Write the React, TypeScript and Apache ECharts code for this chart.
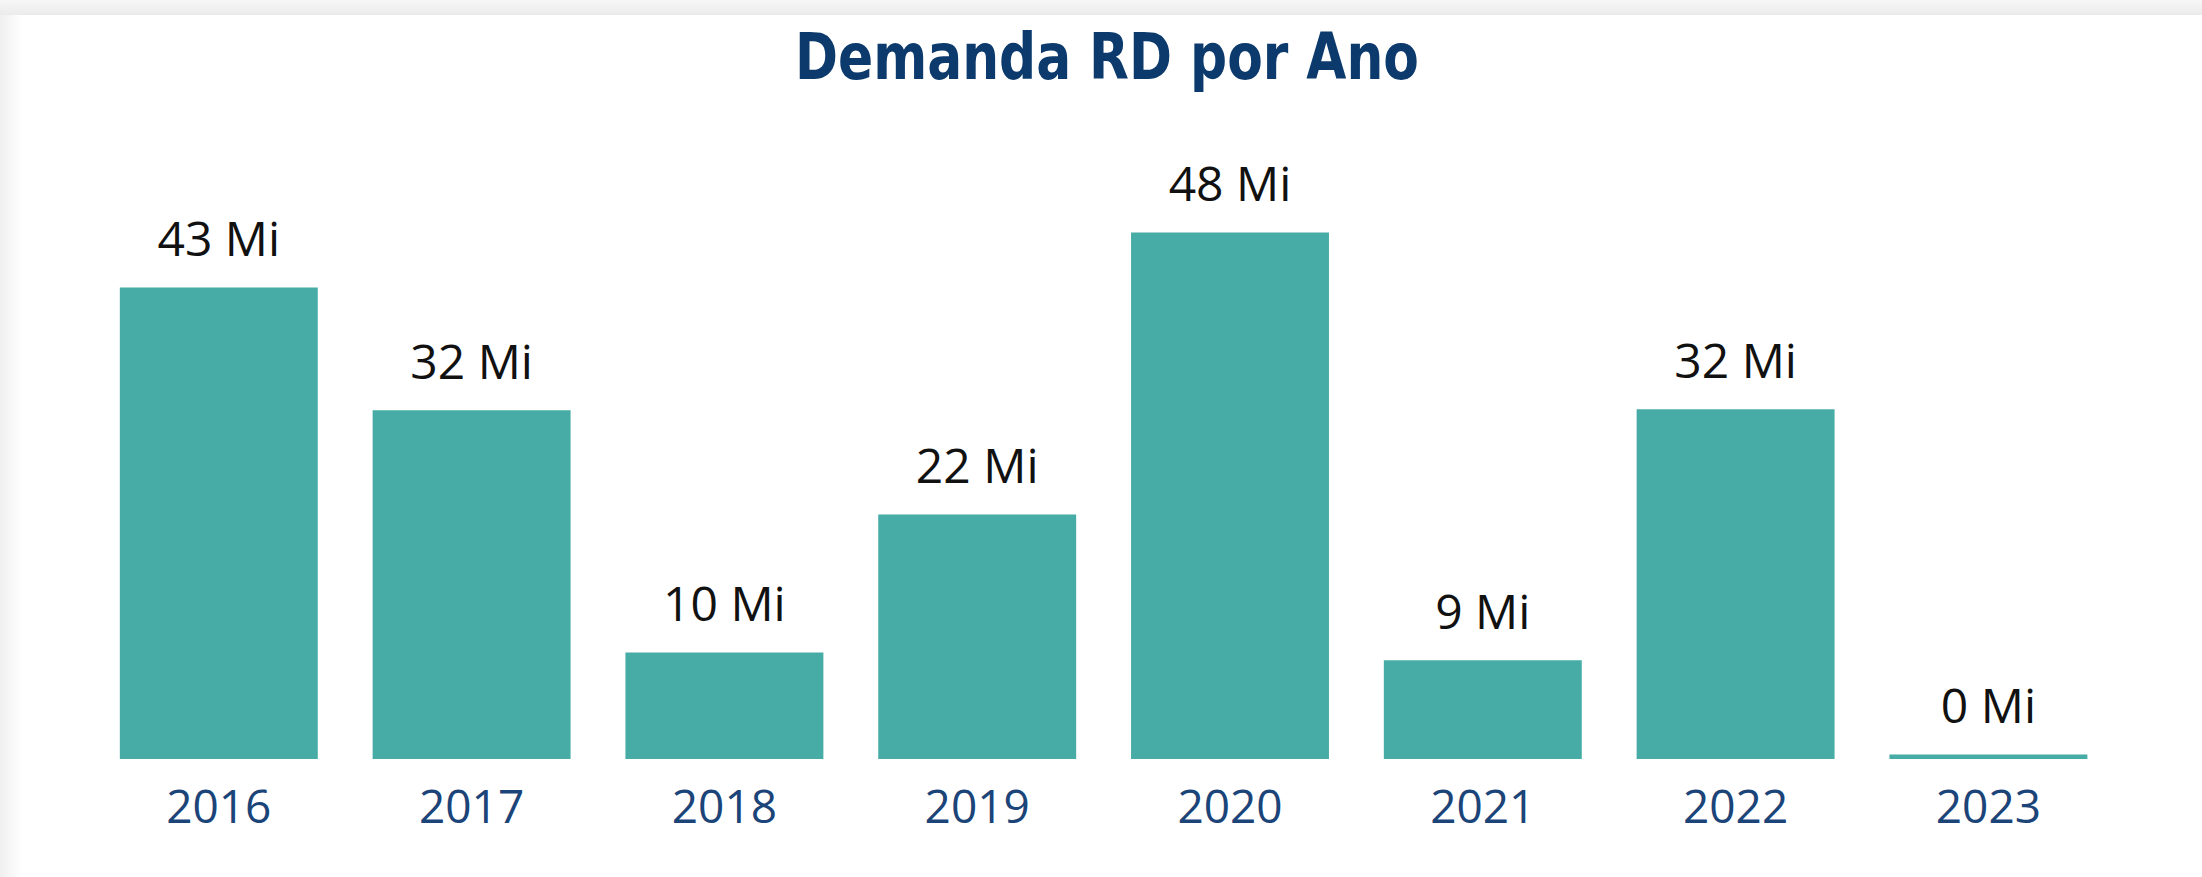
import React, { useEffect, useRef } from "react";
import * as echarts from "echarts";

const years = ["2016", "2017", "2018", "2019", "2020", "2021", "2022", "2023"];
const demandaMi = [43.0, 31.8, 9.7, 22.3, 48.0, 9.0, 31.9, 0.4];
const titleText = "Demanda RD por Ano";
const unitSuffix = " Mi";

export default function App() {
  const ref = useRef<HTMLDivElement>(null);

  useEffect(() => {
    if (!ref.current) return;
    const chart = echarts.init(ref.current, null, { renderer: "svg" });
    chart.setOption({
      animation: false,
      graphic: [
        {
          type: "text",
          x: 1107,
          y: 56,
          scaleX: 0.9,
          style: {
            text: titleText,
            fontFamily: "'DejaVu Sans Condensed', 'DejaVu Sans', sans-serif",
            fontSize: 64,
            fontWeight: "bold",
            fill: "#0c3a6d",
            align: "center",
            verticalAlign: "middle",
          },
        },
      ],
      grid: { left: 92.4, right: 87.2, top: 101, bottom: 118, containLabel: false },
      xAxis: {
        type: "category",
        data: years,
        axisLine: { show: false },
        axisTick: { show: false },
        splitLine: { show: false },
        axisLabel: {
          fontFamily: "'Open Sans', sans-serif",
          fontSize: 46,
          color: "#1b4479",
          margin: 23,
        },
      },
      yAxis: { type: "value", min: 0, max: 60, show: false },
      series: [
        {
          type: "bar",
          data: demandaMi,
          barCategoryGap: "21.7%",
          itemStyle: { color: "#47ACA6" },
          label: {
            show: true,
            position: "top",
            distance: 26,
            formatter: (p: any) => Math.round(p.value) + unitSuffix,
            fontFamily: "'Open Sans', sans-serif",
            fontSize: 48,
            color: "#111111",
          },
        },
      ],
    });
    return () => chart.dispose();
  }, []);

  return (
    <div style={{ position: "fixed", left: 0, top: 0, width: 2202, height: 877, background: "#ffffff", overflow: "hidden" }}>
      <div style={{ position: "absolute", left: 0, top: 0, width: 2202, height: 15, background: "linear-gradient(to bottom, #f7f7f7, #ebebeb)" }} />
      <div style={{ position: "absolute", left: 0, top: 15, width: 22, height: 862, background: "linear-gradient(to right, #efefef, #ffffff)" }} />
      <div ref={ref} style={{ position: "absolute", left: 0, top: 0, width: 2202, height: 877 }} />
    </div>
  );
}
